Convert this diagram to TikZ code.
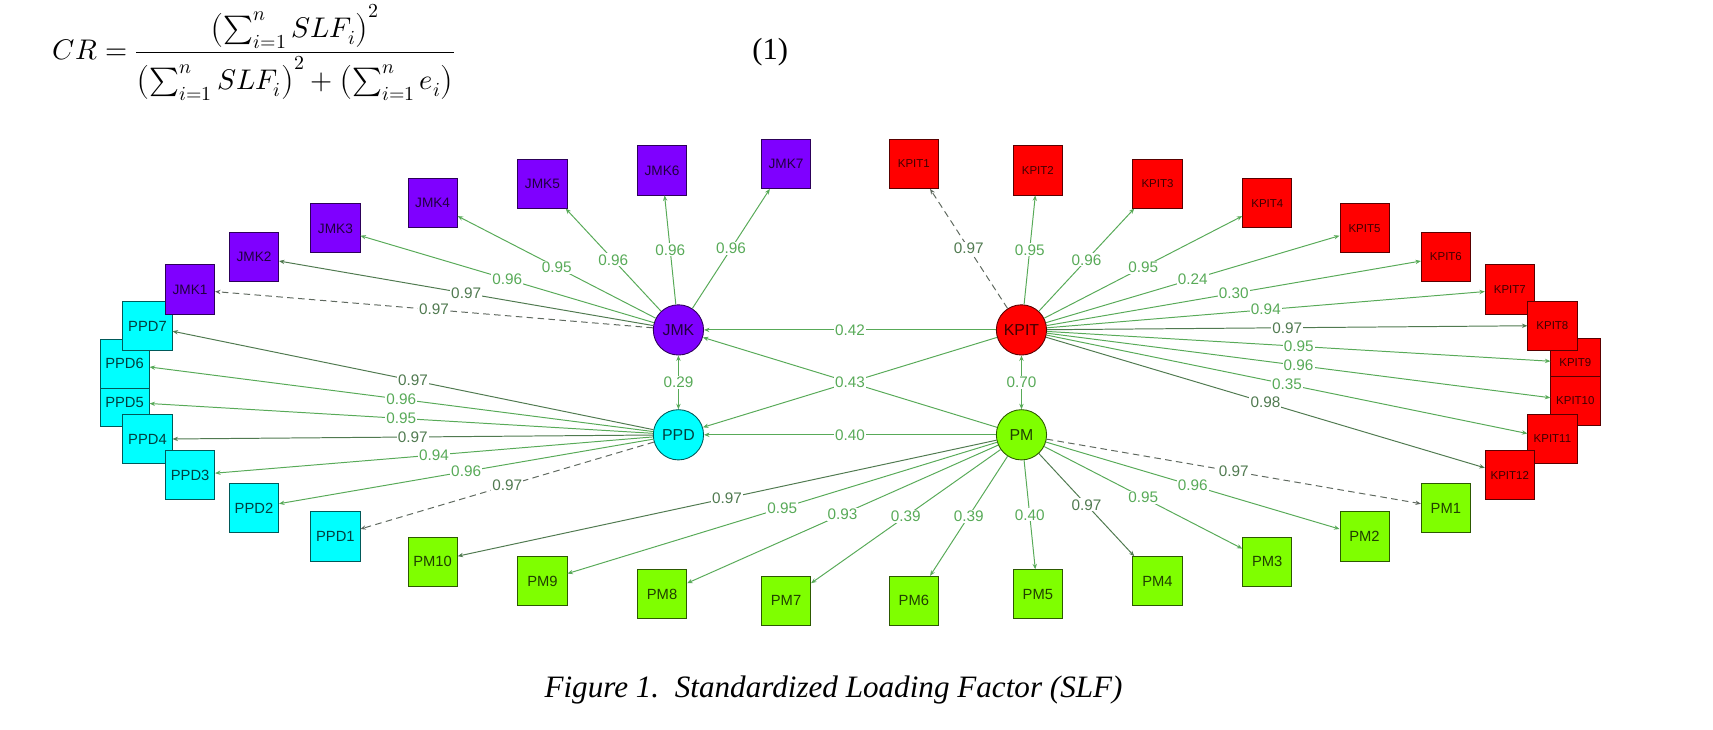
\documentclass[tikz,border=0pt]{standalone}
\usepackage{fontspec}
\usepackage{unicode-math}
\setmainfont{Liberation Serif}
\setmathfont{Latin Modern Math}
\newfontfamily\arialf{Liberation Sans}
\usetikzlibrary{arrows.meta}
\definecolor{jmkc}{RGB}{127,0,255}
\definecolor{kpitc}{RGB}{255,0,0}
\definecolor{ppdc}{RGB}{0,255,255}
\definecolor{pmc}{RGB}{127,255,0}
\definecolor{lgreen}{RGB}{88,170,88}
\definecolor{dgreen}{RGB}{80,122,80}
\definecolor{dgray}{RGB}{95,105,95}
\tikzset{
  bx/.style={rectangle, draw=#1!35!black, fill=#1, line width=0.8pt,
    minimum width=45pt, minimum height=45pt, inner sep=0pt, text=#1!25!black},
  cir/.style={circle, draw=#1!35!black, fill=#1, line width=0.8pt,
    minimum size=46pt, inner sep=0pt, text=#1!25!black,
    font=\arialf\fontsize{14.5}{14.5}\selectfont},
  jmkt/.style={font=\arialf\fontsize{12.5}{12.5}\selectfont},
  kpitt/.style={font=\arialf\fontsize{10.5}{10.5}\selectfont},
  ppdt/.style={font=\arialf\fontsize{13.5}{13.5}\selectfont},
  lbl/.style={fill=white, inner sep=1pt, text=lgreen,
    font=\arialf\fontsize{14}{14}\selectfont},
  lbld/.style={lbl, text=dgreen},
  ed/.style={draw=lgreen, line width=0.9pt, -{Stealth[length=5pt,width=4pt]}},
  edd/.style={ed, draw=dgreen},
  eds/.style={ed, draw=dgray, dash pattern=on 6pt off 4pt},
  edb/.style={ed, {Stealth[length=5pt,width=4pt]}-{Stealth[length=5pt,width=4pt]}}
}
\begin{document}
\begin{tikzpicture}[x=1pt,y=-1pt]
\useasboundingbox (0,0) rectangle (1568,668);
% equation
\node[anchor=west, inner sep=0pt, font=\fontsize{26}{30}\selectfont] (eq) at (48,48)
  {$\displaystyle CR=\frac{\left(\sum_{i=1}^{n} SLF_i\right)^2}{\left(\sum_{i=1}^{n} SLF_i\right)^2+\left(\sum_{i=1}^{n} e_i\right)}$};
\node[font=\fontsize{28}{32}\selectfont] (eqn) at (705,48) {(1)};
\node[font=\fontsize{28.5}{32}\selectfont\itshape] (cap) at (763,632) {Figure 1.\ \ Standardized Loading Factor (SLF)};

% latent variables
\node[cir=jmkc] (JMK) at (621,302) {JMK};
\node[cir=kpitc] (KPIT) at (935,302) {KPIT};
\node[cir=ppdc] (PPD) at (621,398) {PPD};
\node[cir=pmc] (PM) at (935,398) {PM};

% PPD indicators
\node[bx=ppdc, ppdt] (PPD5) at (114,368) {PPD5};
\node[bx=ppdc, ppdt] (PPD6) at (114,333) {PPD6};
\node[bx=ppdc, ppdt] (PPD7) at (135,298.5) {PPD7};
\node[bx=ppdc, ppdt] (PPD4) at (135,402) {PPD4};
\node[bx=ppdc, ppdt] (PPD3) at (174,435) {PPD3};
\node[bx=ppdc, ppdt] (PPD2) at (232.5,465) {PPD2};
\node[bx=ppdc, ppdt] (PPD1) at (307,491) {PPD1};

% JMK indicators
\node[bx=jmkc, jmkt] (JMK1) at (174,265) {JMK1};
\node[bx=jmkc, jmkt] (JMK2) at (232.5,235) {JMK2};
\node[bx=jmkc, jmkt] (JMK3) at (307,209) {JMK3};
\node[bx=jmkc, jmkt] (JMK4) at (396,186) {JMK4};
\node[bx=jmkc, jmkt] (JMK5) at (496.5,168) {JMK5};
\node[bx=jmkc, jmkt] (JMK6) at (606,156) {JMK6};
\node[bx=jmkc, jmkt] (JMK7) at (719.5,150) {JMK7};

% KPIT indicators
\node[bx=kpitc, kpitt] (KPIT1) at (836.5,150) {KPIT1};
\node[bx=kpitc, kpitt] (KPIT2) at (950,156) {KPIT2};
\node[bx=kpitc, kpitt] (KPIT3) at (1059.5,168) {KPIT3};
\node[bx=kpitc, kpitt] (KPIT4) at (1160,186) {KPIT4};
\node[bx=kpitc, kpitt] (KPIT5) at (1249,209) {KPIT5};
\node[bx=kpitc, kpitt] (KPIT6) at (1323.5,235) {KPIT6};
\node[bx=kpitc, kpitt] (KPIT9) at (1442,332) {KPIT9};
\node[bx=kpitc, kpitt] (KPIT10) at (1442,367) {KPIT10};
\node[bx=kpitc, kpitt] (KPIT7) at (1382,265) {KPIT7};
\node[bx=kpitc, kpitt] (KPIT8) at (1421,298) {KPIT8};
\node[bx=kpitc, kpitt] (KPIT11) at (1421,401.5) {KPIT11};
\node[bx=kpitc, kpitt] (KPIT12) at (1382,435) {KPIT12};

% PM indicators
\node[bx=pmc, ppdt] (PM1) at (1323.5,465) {PM1};
\node[bx=pmc, ppdt] (PM2) at (1249,491) {PM2};
\node[bx=pmc, ppdt] (PM3) at (1160,514) {PM3};
\node[bx=pmc, ppdt] (PM4) at (1059.5,532) {PM4};
\node[bx=pmc, ppdt] (PM5) at (950,544) {PM5};
\node[bx=pmc, ppdt] (PM6) at (836.5,550) {PM6};
\node[bx=pmc, ppdt] (PM7) at (719.5,550) {PM7};
\node[bx=pmc, ppdt] (PM8) at (606,544) {PM8};
\node[bx=pmc, ppdt] (PM9) at (496.5,532) {PM9};
\node[bx=pmc, ppdt] (PM10) at (396,514) {PM10};

% JMK loadings
\draw[eds] (JMK) -- node[lbld]{0.97} (JMK1);
\draw[edd] (JMK) -- node[lbld]{0.97} (JMK2);
\draw[ed] (JMK) -- node[lbl]{0.96} (JMK3);
\draw[ed] (JMK) -- node[lbl]{0.95} (JMK4);
\draw[ed] (JMK) -- node[lbl]{0.96} (JMK5);
\draw[ed] (JMK) -- node[lbl]{0.96} (JMK6);
\draw[ed] (JMK) -- node[lbl]{0.96} (JMK7);

% KPIT loadings
\draw[eds] (KPIT) -- node[lbld]{0.97} (KPIT1);
\draw[ed] (KPIT) -- node[lbl]{0.95} (KPIT2);
\draw[ed] (KPIT) -- node[lbl]{0.96} (KPIT3);
\draw[ed] (KPIT) -- node[lbl]{0.95} (KPIT4);
\draw[ed] (KPIT) -- node[lbl]{0.24} (KPIT5);
\draw[ed] (KPIT) -- node[lbl]{0.30} (KPIT6);
\draw[ed] (KPIT) -- node[lbl]{0.94} (KPIT7);
\draw[edd] (KPIT) -- node[lbld]{0.97} (KPIT8);
\draw[ed] (KPIT) -- node[lbl]{0.95} (KPIT9);
\draw[ed] (KPIT) -- node[lbl]{0.96} (KPIT10);
\draw[ed] (KPIT) -- node[lbl]{0.35} (KPIT11);
\draw[edd] (KPIT) -- node[lbld]{0.98} (KPIT12);

% PPD loadings
\draw[edd] (PPD) -- node[lbld]{0.97} (PPD7);
\draw[ed] (PPD) -- node[lbl]{0.96} (PPD6);
\draw[ed] (PPD) -- node[lbl]{0.95} (PPD5);
\draw[edd] (PPD) -- node[lbld]{0.97} (PPD4);
\draw[ed] (PPD) -- node[lbl]{0.94} (PPD3);
\draw[ed] (PPD) -- node[lbl]{0.96} (PPD2);
\draw[eds] (PPD) -- node[lbld]{0.97} (PPD1);

% PM loadings
\draw[eds] (PM) -- node[lbld]{0.97} (PM1);
\draw[ed] (PM) -- node[lbl]{0.96} (PM2);
\draw[ed] (PM) -- node[lbl]{0.95} (PM3);
\draw[edd] (PM) -- node[lbld]{0.97} (PM4);
\draw[ed] (PM) -- node[lbl]{0.40} (PM5);
\draw[ed] (PM) -- node[lbl]{0.39} (PM6);
\draw[ed] (PM) -- node[lbl]{0.39} (PM7);
\draw[ed] (PM) -- node[lbl]{0.93} (PM8);
\draw[ed] (PM) -- node[lbl]{0.95} (PM9);
\draw[edd] (PM) -- node[lbld]{0.97} (PM10);

% structural paths
\draw[ed] (KPIT) -- (PPD);
\draw[ed] (PM) -- node[lbl]{0.43} (JMK);
\draw[ed] (KPIT) -- node[lbl]{0.42} (JMK);
\draw[ed] (PM) -- node[lbl]{0.40} (PPD);
\draw[edb] (JMK) -- node[lbl]{0.29} (PPD);
\draw[edb] (KPIT) -- node[lbl]{0.70} (PM);
\end{tikzpicture}
\end{document}
